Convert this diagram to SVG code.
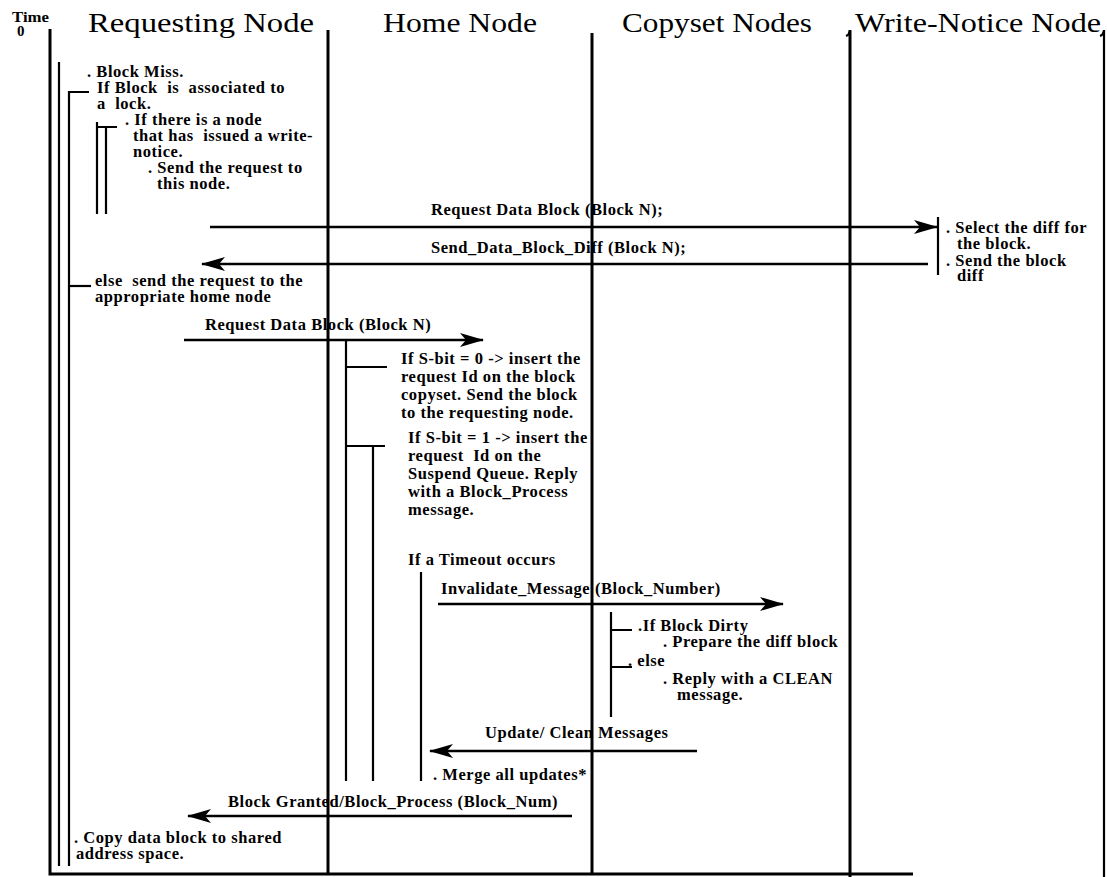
<svg xmlns="http://www.w3.org/2000/svg" width="1107" height="877" viewBox="0 0 1107 877">
<style>
.t{font-family:"Liberation Serif","Times New Roman",serif;font-weight:bold;font-size:16.5px;letter-spacing:0.55px;white-space:pre;fill:#000}
.h{font-family:"Liberation Serif","Times New Roman",serif;font-size:28px;fill:#000}
.life{stroke:#000;stroke-width:3;fill:none}
.act{stroke:#000;stroke-width:2.2;fill:none}
.msg{stroke:#000;stroke-width:2.5;fill:none}
</style>
<defs>
<marker id="arr" viewBox="0 0 24 14" refX="23" refY="7" markerWidth="24" markerHeight="14" markerUnits="userSpaceOnUse" orient="auto">
<path d="M0,0 L24,7 L0,14 L6,7 Z" fill="#000"/>
</marker>
</defs>
<rect width="1107" height="877" fill="#fff"/>

<g id="time-axis">
<text class="t" x="12" y="22" style="font-size:15px;letter-spacing:0" textLength="37" lengthAdjust="spacingAndGlyphs">Time</text>
<text class="t" x="17" y="36" style="font-size:15px;letter-spacing:0">0</text>
</g>

<g id="requesting-node">
<text class="h" x="88" y="32" textLength="226" lengthAdjust="spacingAndGlyphs">Requesting Node</text>
<path class="life" d="M50,29 V874 H913"/>
<path class="act" d="M59,62 V866"/>
<path class="act" d="M89,92 H69 V866"/>
<path class="act" d="M91,286 H69"/>
<path class="act" d="M117,127 H97 M97,122 V214 M106,127 V214"/>
<text class="t" x="87" y="77">. Block Miss.</text>
<text class="t" x="97" y="93">If Block  is  associated to</text>
<text class="t" x="97" y="109">a  lock.</text>
<text class="t" x="125" y="125">. If there is a node</text>
<text class="t" x="133" y="141">that has  issued a write-</text>
<text class="t" x="133" y="157">notice.</text>
<text class="t" x="148" y="173">. Send the request to</text>
<text class="t" x="157" y="189">this node.</text>
<text class="t" x="95" y="286">else  send the request to the</text>
<text class="t" x="95" y="302">appropriate home node</text>
<text class="t" x="74" y="843">. Copy data block to shared</text>
<text class="t" x="76" y="859">address space.</text>
</g>

<g id="home-node">
<text class="h" x="383" y="32" textLength="154" lengthAdjust="spacingAndGlyphs">Home Node</text>
<path class="life" d="M328,30 V874"/>
<path class="act" d="M346,341 V781 M346,367 H387 M346,446 H385 M373,446 V781 M421,572 V781"/>
<text class="t" x="401" y="364">If S-bit = 0 -&gt; insert the</text>
<text class="t" x="401" y="382">request Id on the block</text>
<text class="t" x="401" y="400">copyset. Send the block</text>
<text class="t" x="401" y="418">to the requesting node.</text>
<text class="t" x="408" y="443">If S-bit = 1 -&gt; insert the</text>
<text class="t" x="408" y="461">request  Id on the</text>
<text class="t" x="408" y="479">Suspend Queue. Reply</text>
<text class="t" x="408" y="497">with a Block_Process</text>
<text class="t" x="408" y="515">message.</text>
<text class="t" x="408" y="565">If a Timeout occurs</text>
<text class="t" x="433" y="780">. Merge all updates*</text>
</g>

<g id="copyset-nodes">
<text class="h" x="622" y="32" textLength="190" lengthAdjust="spacingAndGlyphs">Copyset Nodes</text>
<path class="life" d="M592,33 V874"/>
<path class="act" d="M611,612 V717 M611,630 H632 M611,667 H632"/>
<text class="t" x="638" y="631">.If Block Dirty</text>
<text class="t" x="663" y="647">. Prepare the diff block</text>
<text class="t" x="628" y="666">. else</text>
<text class="t" x="663" y="684">. Reply with a CLEAN</text>
<text class="t" x="677" y="700">message.</text>
</g>

<g id="write-notice-node">
<text class="h" x="855" y="32" textLength="246" lengthAdjust="spacingAndGlyphs">Write-Notice Node</text>
<path class="life" d="M850,30 V877"/>
<path class="act" d="M850,31 Q849,35 846,36"/>
<path class="act" d="M1104,30 V877"/>
<path class="act" d="M1104,31 Q1103,35 1100,36"/>
<path class="act" d="M938,217 V275"/>
<text class="t" x="946" y="233">. Select the diff for</text>
<text class="t" x="957" y="249">the block.</text>
<text class="t" x="946" y="266">. Send the block</text>
<text class="t" x="957" y="281">diff</text>
</g>

<g id="connectors">
<path class="msg" d="M210,227 H937" marker-end="url(#arr)"/>
<text class="t" x="431" y="215">Request Data Block (Block N);</text>
<path class="msg" d="M928,264 H202" marker-end="url(#arr)"/>
<text class="t" x="431" y="253">Send_Data_Block_Diff (Block N);</text>
<path class="msg" d="M184,340 H483" marker-end="url(#arr)"/>
<text class="t" x="205" y="330">Request Data Block (Block N)</text>
<path class="msg" d="M438,604 H783" marker-end="url(#arr)"/>
<text class="t" x="441" y="594">Invalidate_Message (Block_Number)</text>
<path class="msg" d="M697,751 H430" marker-end="url(#arr)"/>
<text class="t" x="485" y="738">Update/ Clean Messages</text>
<path class="msg" d="M572,816 H188" marker-end="url(#arr)"/>
<text class="t" x="228" y="807">Block Granted/Block_Process (Block_Num)</text>
</g>
</svg>
